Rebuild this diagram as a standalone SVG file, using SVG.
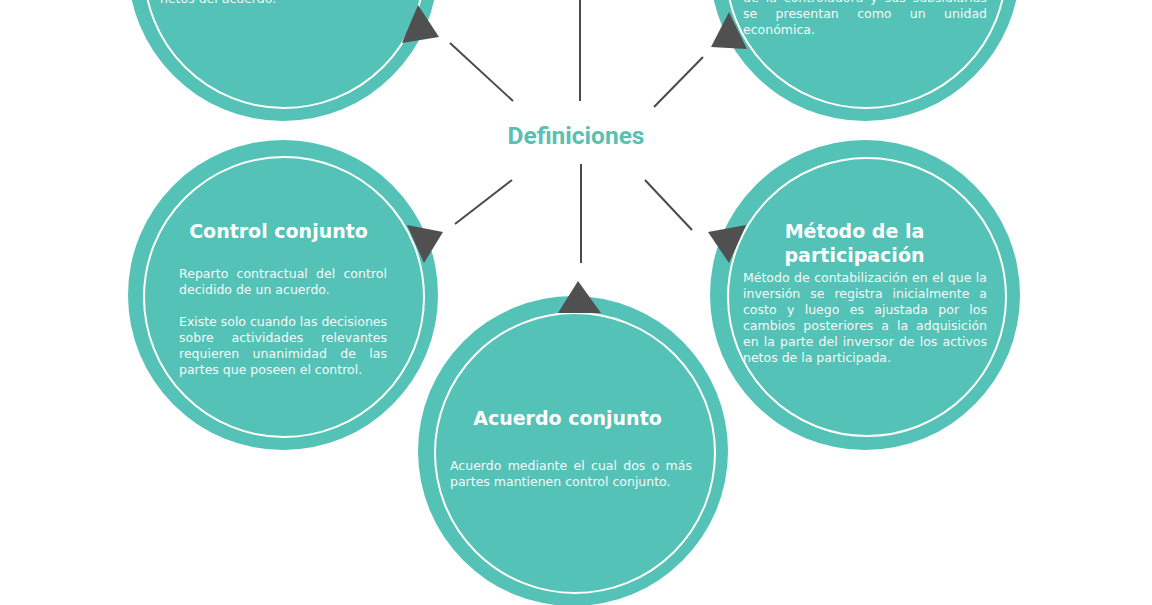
<svg xmlns="http://www.w3.org/2000/svg" width="1152" height="605" viewBox="0 0 1152 605">
<style>
.disc{fill:#54c2b6}
.ring{fill:none;stroke:#ffffff;stroke-width:2}
.ptr{fill:#505050}
.ttl{font-family:"DejaVu Sans",Verdana,sans-serif;font-weight:bold;font-size:19px;fill:#ffffff;text-anchor:middle}
.txt{font-family:"DejaVu Sans",Verdana,sans-serif;font-size:12.5px;fill:#f5faf9}
.conn line{stroke:#4a4a4a;stroke-width:2;fill:none}
.hub{font-family:Roboto,"Liberation Sans",sans-serif;font-weight:bold;font-size:24.5px;fill:#5bbfb1;text-anchor:middle}
</style>
<rect width="1152" height="605" fill="#ffffff"/>

<g id="connectors" class="conn">
<line x1="513" y1="101" x2="450" y2="43"/>
<line x1="580" y1="101" x2="580" y2="0"/>
<line x1="654" y1="107" x2="703" y2="57"/>
<line x1="512" y1="180" x2="455" y2="224"/>
<line x1="581" y1="164" x2="581" y2="263"/>
<line x1="645" y1="180" x2="692" y2="230"/>
</g>

<g id="node-center">
<text class="hub" x="576" y="144">Definiciones</text>
</g>

<g id="node-top-left">
<circle class="disc" cx="283" cy="-34" r="155"/>
<circle class="ring" cx="284" cy="-32" r="140"/>
<polygon class="ptr" points="418,5 439,37 402,43"/>
<text class="txt" x="160" y="3">netos del acuerdo.</text>
</g>

<g id="node-top-right">
<circle class="disc" cx="865" cy="-34" r="155"/>
<circle class="ring" cx="866" cy="-32" r="140"/>
<polygon class="ptr" points="729,12 747,49 711,47"/>
<text class="txt" x="743" y="1.5" word-spacing="3" textLength="244" lengthAdjust="spacing">de la controladora y sus subsidiarias</text>
<text class="txt" x="743" y="17.5" word-spacing="14.4" textLength="244" lengthAdjust="spacing">se presentan como un unidad</text>
<text class="txt" x="743" y="33.5">económica.</text>
</g>

<g id="node-control-conjunto">
<circle class="disc" cx="283" cy="295" r="155"/>
<circle class="ring" cx="284" cy="297" r="140"/>
<polygon class="ptr" points="407,225 443,232 424,263"/>
<text class="ttl" x="278.5" y="238">Control conjunto</text>
<text class="txt" x="179" y="278" word-spacing="4.2" textLength="208" lengthAdjust="spacing">Reparto contractual del control</text>
<text class="txt" x="179" y="294">decidido de un acuerdo.</text>
<text class="txt" x="179" y="326" textLength="208" lengthAdjust="spacing">Existe solo cuando las decisiones</text>
<text class="txt" x="179" y="342" word-spacing="13.75" textLength="208" lengthAdjust="spacing">sobre actividades relevantes</text>
<text class="txt" x="179" y="358" word-spacing="9.4" textLength="208" lengthAdjust="spacing">requieren unanimidad de las</text>
<text class="txt" x="179" y="374">partes que poseen el control.</text>
</g>

<g id="node-metodo-participacion">
<circle class="disc" cx="865" cy="295" r="155"/>
<circle class="ring" cx="867" cy="297" r="139"/>
<polygon class="ptr" points="708,232 746,225 729,263"/>
<text class="ttl" x="854.5" y="238">Método de la</text>
<text class="ttl" x="854.5" y="262">participación</text>
<text class="txt" x="743" y="282" word-spacing="0.5" textLength="244" lengthAdjust="spacing">Método de contabilización en el que la</text>
<text class="txt" x="743" y="298" word-spacing="6" textLength="244" lengthAdjust="spacing">inversión se registra inicialmente a</text>
<text class="txt" x="743" y="314" word-spacing="6.4" textLength="244" lengthAdjust="spacing">costo y luego es ajustada por los</text>
<text class="txt" x="743" y="330" word-spacing="4" textLength="244" lengthAdjust="spacing">cambios posteriores a la adquisición</text>
<text class="txt" x="743" y="346" word-spacing="1.2" textLength="244" lengthAdjust="spacing">en la parte del inversor de los activos</text>
<text class="txt" x="743" y="362">netos de la participada.</text>
</g>

<g id="node-acuerdo-conjunto">
<circle class="disc" cx="573" cy="451" r="155"/>
<circle class="ring" cx="575" cy="453" r="140"/>
<polygon class="ptr" points="578,281 558,313 601,313"/>
<text class="ttl" x="567.5" y="425">Acuerdo conjunto</text>
<text class="txt" x="450" y="470" word-spacing="2.3" textLength="242" lengthAdjust="spacing">Acuerdo mediante el cual dos o más</text>
<text class="txt" x="450" y="486">partes mantienen control conjunto.</text>
</g>
</svg>
